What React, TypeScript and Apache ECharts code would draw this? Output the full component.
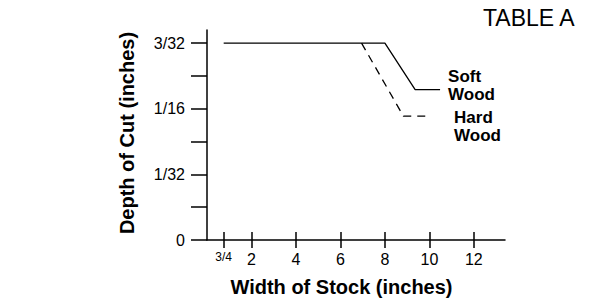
import React, { useEffect, useRef } from "react";
import * as echarts from "echarts";

// Depth of cut values in inches
const softWood: [number, number][] = [
  [0.75, 3 / 32],
  [8, 3 / 32],
  [9.36, 0.0716],
  [10.48, 0.0716],
];
const hardWood: [number, number][] = [
  [6.95, 3 / 32],
  [8.83, 0.059],
  [10.03, 0.059],
];
const xTickValues = [0.75, 2, 4, 6, 8, 10, 12];
const xTickLabels = ["3/4", "2", "4", "6", "8", "10", "12"];
const yTickValues = [0, 1 / 64, 2 / 64, 3 / 64, 4 / 64, 5 / 64, 6 / 64];
const yLabelValues = [0, 1 / 32, 2 / 32, 3 / 32];
const yLabelTexts = ["0", "1/32", "1/16", "3/32"];

export default function App() {
  const ref = useRef<HTMLDivElement>(null);
  useEffect(() => {
    if (!ref.current) return;
    const chart = echarts.init(ref.current, undefined, { renderer: "svg" });
    const font = "Liberation Sans, Arial, sans-serif";
    const xFmt = (v: number) => {
      const i = xTickValues.findIndex((t) => Math.abs(t - v) < 1e-6);
      if (i < 0) return "";
      return i === 0 ? "{s|" + xTickLabels[i] + "}" : xTickLabels[i];
    };
    chart.setOption({
      animation: false,
      backgroundColor: "#fff",
      title: {
        text: "TABLE A",
        left: 483,
        top: 6,
        padding: 0,
        textStyle: { fontFamily: font, fontSize: 23, fontWeight: "normal", color: "#000" },
      },
      grid: {
        left: 207,
        right: 92,
        top: 30,
        bottom: 60,
        containLabel: false,
        outerBoundsMode: "none",
      },
      xAxis: [
        {
          type: "value",
          min: 0,
          max: 13.4,
          splitLine: { show: false },
          axisLine: { show: true, lineStyle: { color: "#000", width: 1.5 } },
          axisTick: {
            show: true,
            inside: false,
            length: 8,
            customValues: xTickValues,
            lineStyle: { color: "#000", width: 1.5 },
          },
          axisLabel: {
            show: true,
            customValues: xTickValues,
            formatter: xFmt,
            margin: 11,
            color: "#000",
            fontFamily: font,
            fontSize: 16,
            rich: { s: { fontSize: 12, fontFamily: font, color: "#000", padding: [0, 0, 4, 0] } },
          },
          name: "Width of Stock (inches)",
          nameLocation: "middle",
          nameGap: 37,
          nameTextStyle: {
            fontFamily: font,
            fontSize: 20,
            fontWeight: "bold",
            color: "#000",
            padding: [0, 29, 0, 0],
          },
        },
        {
          type: "value",
          min: 0,
          max: 13.4,
          position: "bottom",
          splitLine: { show: false },
          axisLine: { show: false },
          axisTick: {
            show: true,
            inside: true,
            length: 8,
            customValues: xTickValues,
            lineStyle: { color: "#000", width: 1.5 },
          },
          axisLabel: { show: false },
        },
      ],
      yAxis: {
        type: "value",
        min: 0,
        max: 0.1,
        splitLine: { show: false },
        axisLine: { show: true, lineStyle: { color: "#000", width: 1.5 } },
        axisTick: {
          show: true,
          inside: false,
          length: 16,
          customValues: yTickValues,
          lineStyle: { color: "#000", width: 1.5 },
        },
        axisLabel: {
          show: true,
          customValues: yLabelValues,
          formatter: (v: number) => {
            const i = yLabelValues.findIndex((t) => Math.abs(t - v) < 1e-6);
            return i < 0 ? "" : yLabelTexts[i];
          },
          margin: 22,
          color: "#000",
          fontFamily: font,
          fontSize: 16,
        },
        name: "Depth of Cut (inches)",
        nameLocation: "middle",
        nameGap: 70,
        nameTextStyle: {
          fontFamily: font,
          fontSize: 20,
          fontWeight: "bold",
          color: "#000",
          padding: [0, 0, 0, 4],
        },
      },
      series: [
        {
          name: "Hard Wood",
          type: "line",
          data: hardWood,
          symbol: "none",
          lineStyle: { color: "#000", width: 1.3, type: [8, 6] },
          endLabel: {
            show: true,
            formatter: "Hard\nWood",
            distance: 0,
            offset: [24, 10],
            align: "left",
            fontFamily: font,
            fontSize: 17,
            lineHeight: 18,
            fontWeight: "bold",
            color: "#000",
          },
          z: 2,
        },
        {
          name: "Soft Wood",
          type: "line",
          data: softWood,
          symbol: "none",
          lineStyle: { color: "#000", width: 1.3 },
          endLabel: {
            show: true,
            formatter: "Soft\nWood",
            distance: 0,
            offset: [8, -4],
            align: "left",
            fontFamily: font,
            fontSize: 17,
            lineHeight: 18,
            fontWeight: "bold",
            color: "#000",
          },
          z: 3,
        },
      ],
    });
    return () => chart.dispose();
  }, []);
  return (
    <div
      ref={ref}
      style={{ width: 597, height: 300, position: "absolute", left: 0, top: 0 }}
    />
  );
}
